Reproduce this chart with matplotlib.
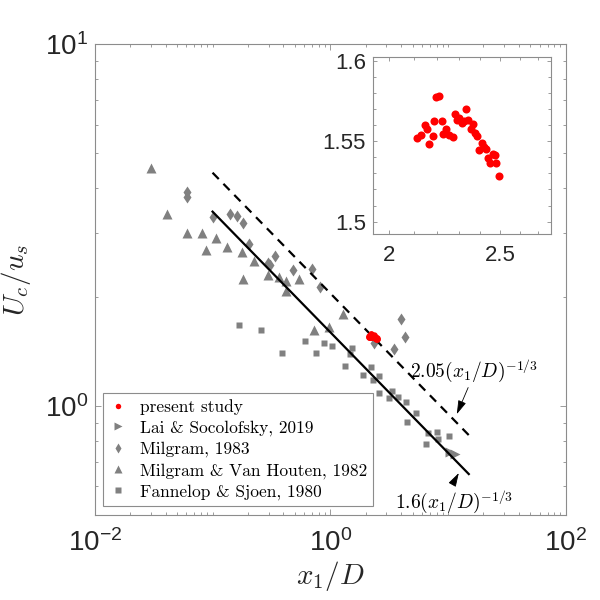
import matplotlib
matplotlib.use('Agg')
import matplotlib.pyplot as plt

plt.rcParams['mathtext.fontset'] = 'custom'
plt.rcParams['mathtext.rm'] = 'Liberation Sans'
plt.rcParams['mathtext.it'] = 'Liberation Sans:italic'
plt.rcParams['mathtext.bf'] = 'Liberation Sans:bold'
plt.rcParams['font.family'] = ['Liberation Sans', 'DejaVu Sans']

# ---------------- data ----------------
present_x = [2.116, 2.132, 2.149, 2.157, 2.168, 2.183, 2.190, 2.197, 2.212, 2.223,
             2.230, 2.242, 2.253, 2.273, 2.283, 2.291, 2.303, 2.314, 2.325, 2.334,
             2.345, 2.357, 2.366, 2.377, 2.385, 2.398, 2.410, 2.421, 2.431, 2.442,
             2.450, 2.464, 2.475, 2.480, 2.492]
present_y = [1.5517, 1.5532, 1.5600, 1.5569, 1.5480, 1.5527, 1.5625, 1.5771, 1.5782, 1.5625,
             1.5538, 1.5569, 1.5532, 1.5523, 1.5669, 1.5631, 1.5641, 1.5611, 1.5621, 1.5698,
             1.5631, 1.5569, 1.5605, 1.5547, 1.5527, 1.5440, 1.5487, 1.5457, 1.5445, 1.5393,
             1.5362, 1.5417, 1.5411, 1.5361, 1.5284]

lai_x = [10.35, 11.41]
lai_y = [0.747, 0.739]

milgram83_x = [0.0608, 0.0608, 0.1005, 0.1415, 0.1622, 0.1806, 0.202, 0.3379, 0.2963,
               0.3093, 0.4804, 0.6966, 0.8193, 4.02, 4.27, 3.46, 2.364]
milgram83_y = [3.91, 3.79, 3.34, 3.40, 3.35, 3.21, 2.81, 2.60, 2.49,
               2.45, 2.38, 2.39, 2.13, 1.74, 1.55, 1.435, 1.49]

mvh_x = [0.0303, 0.0411, 0.0608, 0.0818, 0.1072, 0.0877, 0.1334, 0.179, 0.2228,
         0.1817, 0.2963, 0.3674, 0.4246, 0.419, 0.537, 1.27, 0.721, 0.971]
mvh_y = [4.54, 3.40, 3.00, 3.00, 2.91, 2.70, 2.76, 2.66, 2.52,
         2.25, 2.30, 2.28, 2.21, 2.08, 2.24, 1.80, 1.62, 1.65]

fs_x = [0.168, 0.2604, 0.3898, 0.6073, 0.7575, 0.8841, 1.03, 1.514, 1.328, 1.479,
        1.888, 2.195, 2.296, 2.617, 2.582, 3.158, 3.361, 3.743, 4.402, 5.324,
        4.51, 6.705, 7.98, 6.47, 8.15, 10.1]
fs_y = [1.675, 1.62, 1.40, 1.517, 1.404, 1.49, 1.465, 1.447, 1.29, 1.392,
        1.222, 1.28, 1.178, 1.21, 1.09, 1.056, 1.10, 1.059, 1.024, 0.955,
        0.905, 0.845, 0.850, 0.787, 0.812, 0.825]

fit_x = [0.1, 15.0]
coef_solid = 1.6
coef_dashed = 2.05
exponent = -1.0 / 3.0

labels = ['present study', 'Lai & Socolofsky, 2019', 'Milgram, 1983',
          'Milgram & Van Houten, 1982', 'Fannelop & Sjoen, 1980']

# ---------------- style ----------------
GRAY = '#808080'
SPINE = '#8c8c8c'
TXT = '#262626'

fig = plt.figure(figsize=(6, 6), dpi=100)
ax = fig.add_axes([0.158, 0.1417, 0.785, 0.7845])
ax.set_xscale('log')
ax.set_yscale('log')

ax.plot(mvh_x, mvh_y, '^', color=GRAY, ms=6.5, mec='none', label=labels[3], zorder=2)
ax.plot(milgram83_x, milgram83_y, 'd', color=GRAY, ms=6.5, mec='none', label=labels[2], zorder=2)
ax.plot(fs_x, fs_y, 's', color=GRAY, ms=4.5, mec='none', label=labels[4], zorder=2)
ax.plot(lai_x, lai_y, '>', color=GRAY, ms=6.5, mec='none', label=labels[1], zorder=2)

ys = [coef_solid * x ** exponent for x in fit_x]
yd = [coef_dashed * x ** exponent for x in fit_x]
ax.plot(fit_x, ys, '-', color='black', lw=1.6, zorder=3)
ax.plot(fit_x, yd, '--', color='black', lw=1.6, dashes=(4, 3), zorder=3)

ax.plot(present_x, present_y, 'o', color='red', ms=4.6, mec='none', label=labels[0], zorder=4)

ax.set_xlim(0.01, 100)
ax.set_ylim(0.5, 10)

xmaj = [1e-2, 1e0, 1e2]
ax.set_xticks(xmaj, labels=['$10^{-2}$', '$10^{0}$', '$10^{2}$'])
ax.set_xticks([k * 10.0 ** d for d in range(-2, 2) for k in range(1, 10)
               if not (k == 1 and d in (-2, 0))], minor=True)
ax.set_yticks([1, 10], labels=['$10^{0}$', '$10^{1}$'])
ax.set_yticks([k * 10.0 ** d for d in (-1, 0) for k in range(1, 10)
               if k * 10.0 ** d >= 0.5 and not (k == 1 and d == 0)], minor=True)
ax.xaxis.set_minor_formatter(plt.NullFormatter())
ax.yaxis.set_minor_formatter(plt.NullFormatter())

for sp in ax.spines.values():
    sp.set_color(SPINE)
    sp.set_linewidth(0.8)
ax.tick_params(which='both', direction='in', top=True, right=True, color=SPINE, width=0.6)
ax.tick_params(which='major', length=4, labelsize=20, labelcolor=TXT)
ax.tick_params(which='minor', length=2.5)
ax.tick_params(axis='x', which='major', pad=10)
ax.tick_params(axis='y', which='major', pad=5)

ax.set_xlabel('$x_1/D$', fontsize=21, math_fontfamily='cm', color=TXT, labelpad=2)
ax.set_ylabel('$U_c/u_s$', fontsize=21, math_fontfamily='cm', color=TXT, labelpad=8)

# annotations
ax.annotate('$2.05(x_1/D)^{-1/3}$', xy=(11.87, 0.950), xytext=(4.73, 1.257),
            fontsize=14, math_fontfamily='cm', va='center', ha='left',
            arrowprops=dict(arrowstyle='-|>,head_length=0.6,head_width=0.18',
                            color='black', lw=0.6, relpos=(0.47, 0.0),
                            shrinkA=1, shrinkB=0), zorder=5)
ax.annotate('$1.6(x_1/D)^{-1/3}$', xy=(12.34, 0.653), xytext=(3.53, 0.545),
            fontsize=14, math_fontfamily='cm', va='center', ha='left',
            arrowprops=dict(arrowstyle='-|>,head_length=0.6,head_width=0.18',
                            color='black', lw=0.6, relpos=(0.47, 1.0),
                            shrinkA=1, shrinkB=0), zorder=5)

handles, labs = ax.get_legend_handles_labels()
order = [labs.index(l) for l in labels]
leg = ax.legend([handles[i] for i in order], [labs[i] for i in order],
                loc='lower left', bbox_to_anchor=(0.017, 0.019), borderaxespad=0,
                prop={'family': 'cmr10', 'size': 12.5}, frameon=True, fancybox=False,
                edgecolor=SPINE, framealpha=1, handlelength=1.0, handletextpad=0.8,
                labelspacing=0.32, borderpad=0.35, markerscale=0.85)
leg.get_frame().set_linewidth(0.8)
leg.set_zorder(6)

# ---------------- inset ----------------
axi = fig.add_axes([0.6217, 0.61, 0.2967, 0.2955])
axi.set_xscale('log')
axi.set_yscale('log')
axi.plot(present_x, present_y, 'o', color='red', ms=5.8, mec='none')
axi.set_xlim(1.935, 2.77)
axi.set_ylim(1.493, 1.603)
axi.set_xticks([2.0, 2.5], labels=['2', '2.5'])
axi.set_xticks([2.1, 2.2, 2.3, 2.4, 2.6, 2.7], minor=True)
axi.set_yticks([1.5, 1.55, 1.6], labels=['1.5', '1.55', '1.6'])
axi.set_yticks([1.51, 1.52, 1.53, 1.54, 1.56, 1.57, 1.58, 1.59], minor=True)
axi.xaxis.set_minor_formatter(plt.NullFormatter())
axi.yaxis.set_minor_formatter(plt.NullFormatter())
for sp in axi.spines.values():
    sp.set_color(SPINE)
    sp.set_linewidth(0.8)
axi.tick_params(which='both', direction='in', top=True, right=True, color=SPINE, width=0.6)
axi.tick_params(which='major', length=3, labelsize=16, labelcolor=TXT)
axi.tick_params(which='minor', length=2)
axi.tick_params(axis='x', which='major', pad=8)
axi.tick_params(axis='y', which='major', pad=5)

fig.savefig('out.png', dpi=100)
